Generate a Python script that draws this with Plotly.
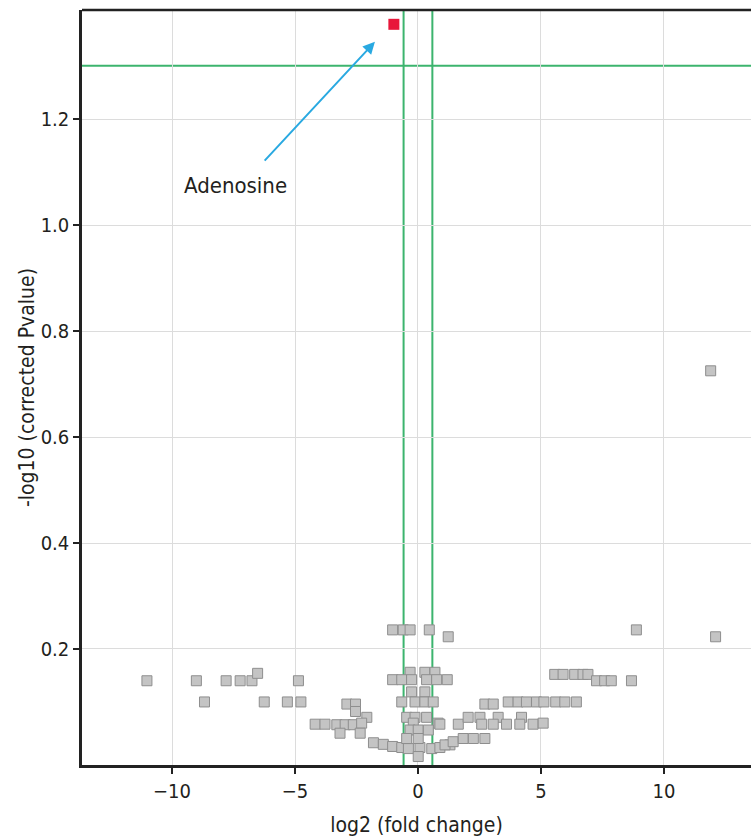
import plotly.graph_objects as go

# Gray (non-significant) metabolites: log2 fold change, -log10 corrected p-value
gray_x = [
    -11.02, -9.01, -8.68, -7.80, -7.23, -6.75, -6.52, -6.25, -5.31, -4.86, -4.76,
    -2.89, -2.54, -2.54, -2.08, -4.18, -3.78, -3.30, -2.96, -2.63, -2.29, -3.17, -2.35,
    -1.81, -1.41, -1.03, -0.66, -0.39, 0.08, 0.56, 0.89, 1.30,
    -1.03, -0.60, -0.32, 0.46, 1.23,
    -0.32, 0.28, 0.69,
    -1.03, -0.66, -0.26, 0.35, 0.76, 1.19,
    -0.26, 0.28,
    -0.66, -0.12, 0.28, 0.62,
    -0.46, -0.12, 0.35,
    -0.19, 0.82,
    -0.32, 0.01, 0.42,
    -0.46, 0.01,
    0.01,
    1.10, 1.43, 1.84, 2.25, 2.72,
    1.64, 2.04, 2.52, 3.26, 4.21, 2.59, 3.06, 3.60, 4.14, 4.68, 5.09, 0.89,
    2.72, 3.06, 3.67, 4.07, 4.41, 4.82, 5.12, 5.60, 5.97, 6.44,
    5.56, 5.90, 6.37, 6.71, 6.91, 7.26, 7.59, 7.86, 8.68, 8.88, 12.10, 11.90,
]
gray_y = [
    0.140, 0.140, 0.100, 0.140, 0.140, 0.140, 0.154, 0.100, 0.100, 0.140, 0.100,
    0.096, 0.096, 0.082, 0.071, 0.058, 0.058, 0.057, 0.057, 0.057, 0.060, 0.041, 0.041,
    0.023, 0.020, 0.016, 0.014, 0.012, 0.014, 0.012, 0.014, 0.019,
    0.236, 0.236, 0.236, 0.236, 0.223,
    0.156, 0.156, 0.156,
    0.142, 0.142, 0.142, 0.142, 0.142, 0.142,
    0.119, 0.119,
    0.100, 0.100, 0.100, 0.100,
    0.071, 0.071, 0.071,
    0.060, 0.060,
    0.047, 0.047, 0.047,
    0.031, 0.031,
    -0.003,
    0.019, 0.025, 0.031, 0.031, 0.031,
    0.058, 0.071, 0.071, 0.071, 0.071, 0.058, 0.058, 0.058, 0.058, 0.058, 0.060, 0.058,
    0.096, 0.096, 0.100, 0.100, 0.100, 0.100, 0.100, 0.100, 0.100, 0.100,
    0.152, 0.152, 0.152, 0.152, 0.152, 0.140, 0.140, 0.140, 0.140, 0.236, 0.223, 0.725,
]

# Significant metabolite
sig_name = "Adenosine"
sig_x = [-0.98]
sig_y = [1.379]

# Thresholds
p_threshold = 1.301   # -log10(0.05)
fc_threshold = 0.585  # log2(1.5)

x_ticks = [-10, -5, 0, 5, 10]
x_tick_text = ["\u221210", "\u22125", "0", "5", "10"]
y_ticks = [0.2, 0.4, 0.6, 0.8, 1.0, 1.2]
y_tick_text = ["0.2", "0.4", "0.6", "0.8", "1.0", "1.2"]

FONT = "DejaVu Sans Condensed, Liberation Sans Narrow, sans-serif"
GREEN = "#3cb46e"
TXT = "#231f20"

fig = go.Figure()

fig.add_trace(go.Scatter(
    x=gray_x, y=gray_y, mode="markers",
    marker=dict(symbol="square", size=10, color="#c4c4c4",
                line=dict(color="#8e8e8e", width=1)),
    showlegend=False, hoverinfo="x+y",
))
fig.add_trace(go.Scatter(
    x=sig_x, y=sig_y, mode="markers", name=sig_name,
    marker=dict(symbol="square", size=11, color="#e8173a",
                line=dict(color="#e8173a", width=0)),
    showlegend=False,
))

# threshold lines
fig.add_shape(type="line", xref="paper", x0=0, x1=1, yref="y",
              y0=p_threshold, y1=p_threshold, line=dict(color=GREEN, width=2), layer="below")
for xv in (-fc_threshold, fc_threshold):
    fig.add_shape(type="line", xref="x", x0=xv, x1=xv, yref="paper",
                  y0=0, y1=1, line=dict(color=GREEN, width=2), layer="below")
# top frame line
fig.add_shape(type="line", xref="paper", x0=0, x1=1, yref="paper", y0=1, y1=1,
              line=dict(color="#222222", width=2.5))

# annotation arrow
fig.add_annotation(x=-1.75, y=1.346, ax=-6.29, ay=1.119, xref="x", yref="y",
                   axref="x", ayref="y", text="", showarrow=True,
                   arrowhead=2, arrowsize=1.2, arrowwidth=2, arrowcolor="#29a9e1")
fig.add_annotation(x=-7.40, y=1.074, xref="x", yref="y", text=sig_name,
                   showarrow=False, font=dict(family=FONT, size=22, color=TXT))

fig.update_layout(
    width=751, height=840,
    margin=dict(l=82, r=0, t=10, b=75),
    plot_bgcolor="white", paper_bgcolor="white",
    font=dict(family=FONT, size=20, color=TXT),
    xaxis=dict(
        range=[-13.66, 13.54], tickvals=x_ticks, ticktext=x_tick_text,
        showgrid=True, gridcolor="#dcdcdc", gridwidth=1, zeroline=False,
        showline=True, linecolor="#222222", linewidth=2.5,
        ticks="outside", ticklen=6, tickcolor="#222222", tickwidth=1.5,
        title=dict(text="log2 (fold change)", font=dict(family=FONT, size=21), standoff=16),
        tickfont=dict(family=FONT, size=20),
    ),
    yaxis=dict(
        range=[-0.019, 1.406], tickvals=y_ticks, ticktext=y_tick_text,
        showgrid=True, gridcolor="#dcdcdc", gridwidth=1, zeroline=False,
        showline=True, linecolor="#222222", linewidth=2.5,
        ticks="outside", ticklen=6, tickcolor="#222222", tickwidth=1.5,
        title=dict(text="-log10 (corrected Pvalue)", font=dict(family=FONT, size=21), standoff=1),
        tickfont=dict(family=FONT, size=20),
    ),
)

fig.write_html("out.html")
